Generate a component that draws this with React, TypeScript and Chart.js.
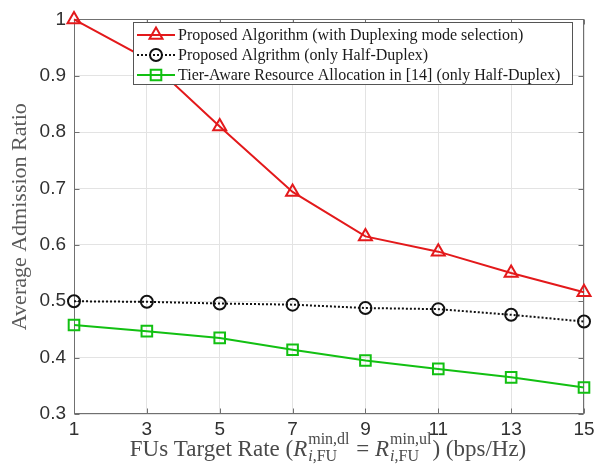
import React, { useEffect, useRef } from "react";
import { Chart, registerables } from "chart.js";

Chart.register(...registerables);

const xValues = [1, 3, 5, 7, 9, 11, 13, 15];
const proposedDuplex = [1.0, 0.93, 0.81, 0.694, 0.615, 0.588, 0.55, 0.516];
const proposedHalf = [0.5, 0.499, 0.496, 0.494, 0.488, 0.486, 0.476, 0.464];
const tierAware = [0.458, 0.447, 0.435, 0.414, 0.395, 0.38, 0.365, 0.347];

const seriesLabels = [
  "Proposed Algorithm (with Duplexing mode selection)",
  "Proposed Algrithm (only Half-Duplex)",
  "Tier-Aware Resource Allocation in [14] (only Half-Duplex)",
];
const yTitle = "Average Admission Ratio";

const RED = "#e3191b";
const BLACK = "#111111";
const GREEN = "#12c012";
const AXIS = "#707070";
const GRID = "#e3e3e3";
const TICKTXT = "#303030";
const SERIF = '"Liberation Serif", "DejaVu Serif", serif';
const SANS = '"Liberation Sans", Arial, sans-serif';

const styles = [
  { color: RED, dash: [] as number[], style: "triangle", radius: 7.5 },
  { color: BLACK, dash: [2, 2], style: "circle", radius: 6 },
  { color: GREEN, dash: [] as number[], style: "rect", radius: 7.5 },
];

function drawMarker(ctx: CanvasRenderingContext2D, style: string, x: number, y: number, r: number) {
  ctx.beginPath();
  if (style === "triangle") {
    ctx.moveTo(x, y - r);
    ctx.lineTo(x + r * Math.sqrt(3) / 2, y + r / 2);
    ctx.lineTo(x - r * Math.sqrt(3) / 2, y + r / 2);
    ctx.closePath();
  } else if (style === "circle") {
    ctx.arc(x, y, r, 0, Math.PI * 2);
  } else {
    const s = r * Math.SQRT1_2;
    ctx.rect(x - s, y - s, 2 * s, 2 * s);
  }
  ctx.stroke();
}

const decor = {
  id: "decor",
  beforeDatasetsDraw(chart: any) {
    const { ctx, chartArea } = chart;
    const { left, right, top, bottom } = chartArea;
    const xs = chart.scales.x;
    const ys = chart.scales.y;
    ctx.save();
    ctx.strokeStyle = AXIS;
    ctx.lineWidth = 1;
    const L = Math.round(left) + 0.5;
    const R = Math.round(right) - 0.5;
    const T = Math.round(top) + 0.5;
    const B = Math.round(bottom) - 0.5;
    ctx.strokeRect(L, T, R - L, B - T);
    const tl = 5;
    ctx.beginPath();
    xs.ticks.forEach((t: any) => {
      const px = Math.round(xs.getPixelForValue(t.value)) + 0.5;
      ctx.moveTo(px, B);
      ctx.lineTo(px, B - tl);
      ctx.moveTo(px, T);
      ctx.lineTo(px, T + tl);
    });
    ys.ticks.forEach((t: any) => {
      const py = Math.round(ys.getPixelForValue(t.value)) + 0.5;
      ctx.moveTo(L, py);
      ctx.lineTo(L + tl, py);
      ctx.moveTo(R, py);
      ctx.lineTo(R - tl, py);
    });
    ctx.stroke();
    ctx.restore();
  },
  afterDraw(chart: any) {
    const { ctx, chartArea } = chart;
    ctx.save();
    // Y title
    ctx.fillStyle = "#5a5a5a";
    ctx.font = `22px ${SERIF}`;
    ctx.textAlign = "center";
    ctx.textBaseline = "middle";
    ctx.translate(20, (chartArea.top + chartArea.bottom) / 2);
    ctx.rotate(-Math.PI / 2);
    ctx.fillText(yTitle, 0, 0);
    ctx.setTransform(1, 0, 0, 1, 0, 0);

    // X title with math
    const main = `23px ${SERIF}`;
    const ital = `italic 23px ${SERIF}`;
    const small = `16px ${SERIF}`;
    const smallIt = `italic 16px ${SERIF}`;
    type Piece = { kind: "t"; text: string; font: string } | { kind: "s"; sup: string; subI: string; subR: string };
    const pieces: Piece[] = [
      { kind: "t", text: "FUs Target Rate (", font: main },
      { kind: "t", text: "R", font: ital },
      { kind: "s", sup: "min,dl", subI: "i", subR: ",FU" },
      { kind: "t", text: " = ", font: main },
      { kind: "t", text: "R", font: ital },
      { kind: "s", sup: "min,ul", subI: "i", subR: ",FU" },
      { kind: "t", text: ") (bps/Hz)", font: main },
    ];
    const widthOf = (p: Piece) => {
      if (p.kind === "t") {
        ctx.font = p.font;
        return ctx.measureText(p.text).width;
      }
      ctx.font = small;
      const w1 = ctx.measureText(p.sup).width;
      ctx.font = smallIt;
      const wi = ctx.measureText(p.subI).width;
      ctx.font = small;
      const wr = ctx.measureText(p.subR).width;
      return Math.max(w1, wi + wr) + 2;
    };
    const total = pieces.reduce((a, p) => a + widthOf(p), 0);
    let cx = 328 - total / 2;
    const base = 456;
    ctx.fillStyle = "#4a4a4a";
    ctx.textAlign = "left";
    ctx.textBaseline = "alphabetic";
    pieces.forEach((p) => {
      const w = widthOf(p);
      if (p.kind === "t") {
        ctx.font = p.font;
        ctx.fillText(p.text, cx, base);
      } else {
        ctx.font = small;
        ctx.fillText(p.sup, cx + 1, base - 12);
        ctx.font = smallIt;
        ctx.fillText(p.subI, cx + 1, base + 5);
        const wi = ctx.measureText(p.subI).width;
        ctx.font = small;
        ctx.fillText(p.subR, cx + 1 + wi, base + 5);
      }
      cx += w;
    });

    // Legend
    const lx = 133.5, ly = 22.5, lw = 439, lh = 62;
    ctx.fillStyle = "#ffffff";
    ctx.fillRect(lx, ly, lw, lh);
    ctx.strokeStyle = "#555555";
    ctx.lineWidth = 1;
    ctx.setLineDash([]);
    ctx.strokeRect(lx, ly, lw, lh);
    seriesLabels.forEach((label, i) => {
      const yy = 35 + i * 20;
      const st = styles[i];
      ctx.strokeStyle = st.color;
      ctx.lineWidth = 2;
      ctx.setLineDash(st.dash);
      ctx.beginPath();
      ctx.moveTo(137, yy);
      ctx.lineTo(175, yy);
      ctx.stroke();
      ctx.setLineDash([]);
      drawMarker(ctx, st.style, 156, yy, st.radius);
      ctx.fillStyle = "#1a1a1a";
      ctx.font = `16px ${SERIF}`;
      ctx.textBaseline = "middle";
      ctx.fillText(label, 178, yy + 1);
    });
    ctx.restore();
  },
};

export default function App() {
  const ref = useRef<HTMLCanvasElement | null>(null);
  useEffect(() => {
    if (!ref.current) return;
    const mk = (vals: number[]) => xValues.map((x, i) => ({ x, y: vals[i] }));
    const all = [proposedDuplex, proposedHalf, tierAware];
    const chart = new Chart(ref.current, {
      type: "line",
      data: {
        datasets: all.map((vals, i) => ({
          label: seriesLabels[i],
          data: mk(vals),
          borderColor: styles[i].color,
          backgroundColor: "rgba(0,0,0,0)",
          borderWidth: 2,
          borderDash: styles[i].dash,
          pointStyle: styles[i].style as any,
          pointRadius: styles[i].radius,
          pointBorderWidth: 2,
          pointBorderColor: styles[i].color,
          pointBackgroundColor: "rgba(0,0,0,0)",
          tension: 0,
          clip: false as any,
        })),
      },
      options: {
        animation: false,
        responsive: false,
        devicePixelRatio: 1,
        layout: { padding: { left: 0, right: 19, top: 11, bottom: 0 } },
        plugins: { legend: { display: false }, tooltip: { enabled: false } },
        scales: {
          x: {
            type: "linear",
            min: 1,
            max: 15,
            ticks: {
              stepSize: 2,
              color: TICKTXT,
              font: { family: SANS, size: 19 },
              padding: 4,
              maxRotation: 0,
              autoSkip: false,
            },
            grid: { color: GRID, drawTicks: false },
            border: { display: false },
            afterFit: (s: any) => {
              s.height = 53;
            },
          },
          y: {
            min: 0.3,
            max: 1,
            ticks: {
              stepSize: 0.1,
              color: TICKTXT,
              font: { family: SANS, size: 19 },
              padding: 8,
              callback: (v: any) => String(Number(Number(v).toFixed(1))),
            },
            grid: { color: GRID, drawTicks: false },
            border: { display: false },
            afterFit: (s: any) => {
              s.width = 74;
            },
          },
        },
      },
      plugins: [decor],
    });
    return () => chart.destroy();
  }, []);
  return (
    <div style={{ position: "absolute", left: 0, top: 0, width: 603, height: 467, background: "#fff" }}>
      <canvas ref={ref} width={603} height={467} style={{ display: "block" }} />
    </div>
  );
}
